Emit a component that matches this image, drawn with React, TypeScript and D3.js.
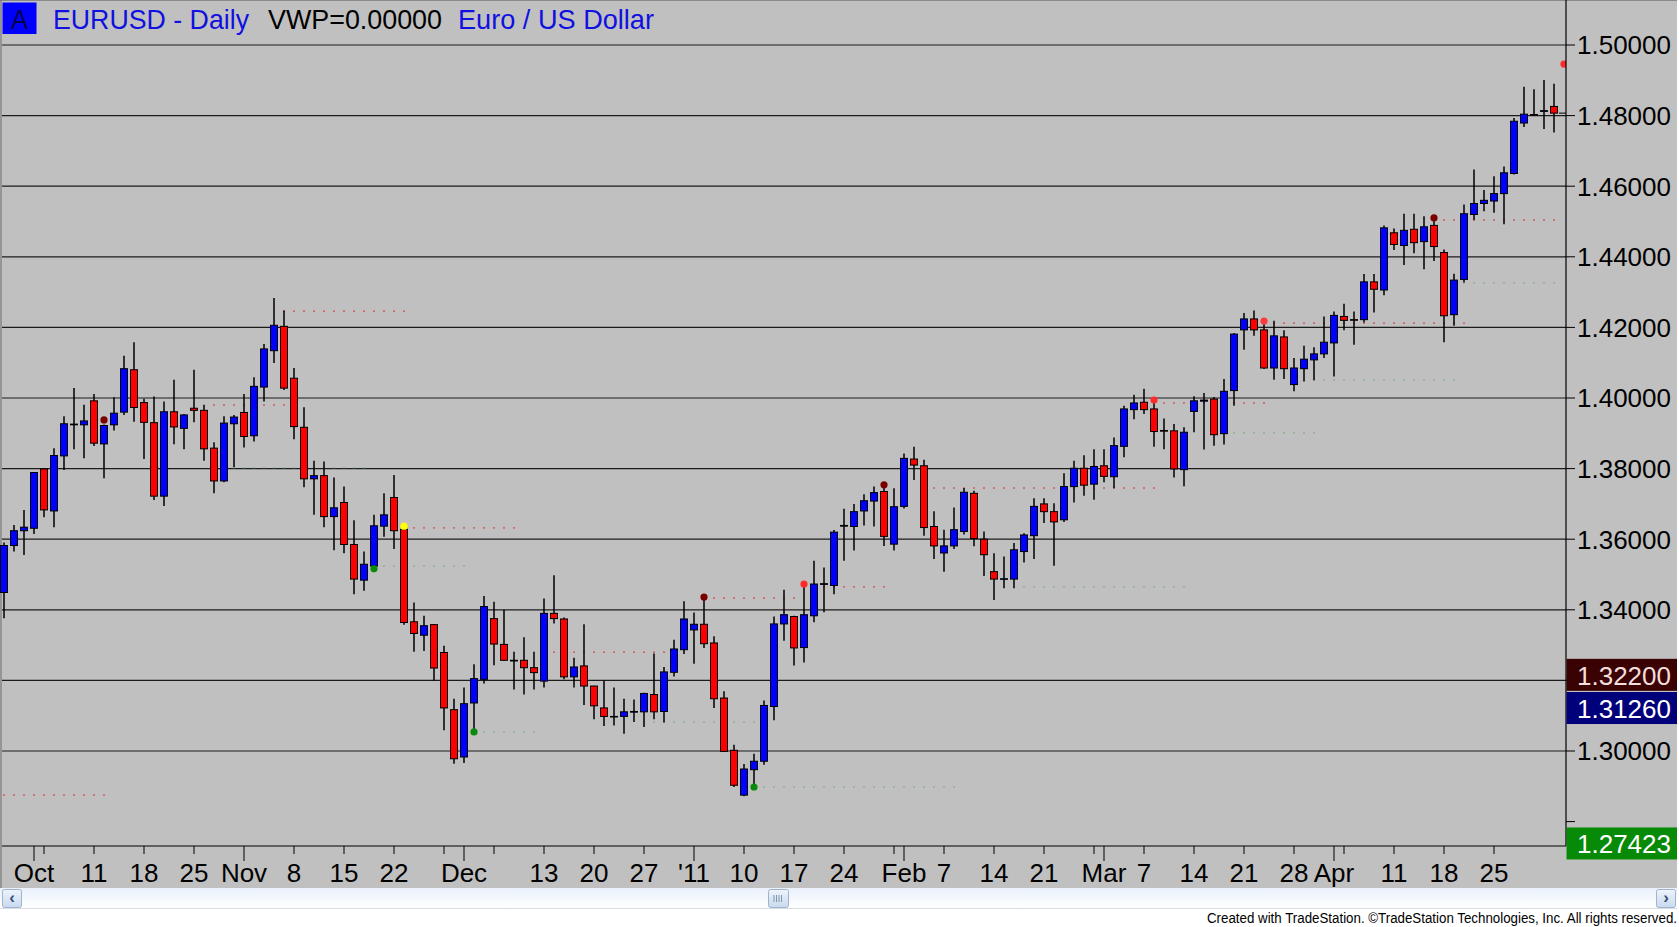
import { useEffect, useRef } from "react";
import * as d3 from "d3";

// daily EURUSD bars, Sep 28 2010 .. May 3 2011 (weekdays)
const opens = [
  1.3449, 1.3582, 1.3624, 1.3631, 1.3799, 1.368, 1.3836, 1.3924, 1.3924, 1.3992,
  1.387, 1.3924, 1.396, 1.408, 1.3987, 1.393, 1.3722, 1.3961, 1.3914, 1.3971,
  1.3965, 1.3858, 1.3765, 1.3927, 1.3959, 1.3893, 1.4031, 1.4134, 1.4203, 1.4056,
  1.3917, 1.3771, 1.378, 1.3664, 1.3704, 1.3585, 1.3484, 1.3524, 1.3637, 1.3718,
  1.3628, 1.3366, 1.3328, 1.3358, 1.3279, 1.3117, 1.2983, 1.3136, 1.3203, 1.3375,
  1.3302, 1.3257, 1.3257, 1.3236, 1.3198, 1.339, 1.3374, 1.321, 1.3241, 1.3184,
  1.3122, 1.3098, 1.3098, 1.311, 1.3111, 1.316, 1.3112, 1.3223, 1.3287, 1.3343,
  1.3359, 1.3306, 1.315, 1.3002, 1.2875, 1.2947, 1.2971, 1.3126, 1.336, 1.3381,
  1.3293, 1.3383, 1.3472, 1.3469, 1.3637, 1.3636, 1.368, 1.3708, 1.3735, 1.3586,
  1.3693, 1.3827, 1.3808, 1.3636, 1.3561, 1.3581, 1.3622, 1.373, 1.36, 1.3508,
  1.3487, 1.3487, 1.3565, 1.361, 1.37, 1.3678, 1.3655, 1.3749, 1.3801, 1.3756,
  1.3808, 1.3777, 1.3863, 1.3967, 1.3988, 1.3969, 1.3908, 1.3907, 1.3797, 1.3962,
  1.3991, 1.3997, 1.3899, 1.4021, 1.4193, 1.4224, 1.4193, 1.4085, 1.4173, 1.4038,
  1.4083, 1.4108, 1.4125, 1.4156, 1.4231, 1.4222, 1.4222, 1.4329, 1.4306, 1.4468,
  1.4432, 1.4478, 1.4443, 1.4489, 1.4412, 1.4236, 1.4336, 1.452, 1.4551, 1.4558,
  1.4579, 1.4636, 1.4779, 1.4803, 1.4812, 1.4826,
];
const highs = [
  1.3591, 1.364, 1.3683, 1.379, 1.38, 1.3858, 1.3948, 1.4028, 1.3981, 1.4011,
  1.3925, 1.4002, 1.412, 1.4158, 1.3998, 1.4004, 1.399, 1.4052, 1.3955, 1.408,
  1.3981, 1.3875, 1.3948, 1.3952, 1.4011, 1.4059, 1.4153, 1.4283, 1.4248, 1.4085,
  1.3974, 1.3822, 1.382, 1.3775, 1.3749, 1.3654, 1.3565, 1.3669, 1.373, 1.3782,
  1.3635, 1.3421, 1.3383, 1.336, 1.3298, 1.3148, 1.318, 1.3246, 1.3439, 1.3423,
  1.34, 1.3281, 1.3322, 1.3281, 1.3432, 1.3498, 1.3378, 1.3264, 1.3359, 1.3185,
  1.32, 1.318, 1.3148, 1.3146, 1.3165, 1.3276, 1.3238, 1.3315, 1.3424, 1.3392,
  1.3428, 1.3325, 1.3169, 1.3018, 1.2963, 1.2992, 1.3143, 1.3381, 1.3457, 1.3383,
  1.3466, 1.3539, 1.352, 1.3626, 1.3686, 1.37, 1.3727, 1.3749, 1.3749, 1.3744,
  1.3843, 1.3862, 1.3825, 1.3679, 1.3627, 1.369, 1.3745, 1.3737, 1.3622, 1.356,
  1.3551, 1.3589, 1.3617, 1.3716, 1.3716, 1.3702, 1.3787, 1.3822, 1.3838, 1.3855,
  1.3855, 1.3888, 1.3978, 1.4009, 1.4026, 1.3992, 1.3942, 1.3926, 1.3917, 1.4005,
  1.4014, 1.4003, 1.4054, 1.4184, 1.4241, 1.4248, 1.4212, 1.4219, 1.4192, 1.4113,
  1.4148, 1.4144, 1.4231, 1.4245, 1.4267, 1.4245, 1.4351, 1.4351, 1.4489, 1.448,
  1.4522, 1.4522, 1.4515, 1.4506, 1.4421, 1.4352, 1.4548, 1.4647, 1.4589, 1.4628,
  1.4656, 1.4793, 1.4882, 1.4875, 1.4901, 1.489,
];
const lows = [
  1.3376, 1.3565, 1.3555, 1.3615, 1.3662, 1.3634, 1.3796, 1.3855, 1.3829, 1.3864,
  1.3773, 1.3908, 1.3952, 1.3933, 1.3827, 1.3711, 1.3694, 1.3869, 1.3855, 1.3931,
  1.3822, 1.373, 1.3761, 1.3804, 1.386, 1.3877, 1.399, 1.4099, 1.4023, 1.3883,
  1.3747, 1.3669, 1.3634, 1.3569, 1.356, 1.3444, 1.3454, 1.3513, 1.3607, 1.3572,
  1.3358, 1.3281, 1.3283, 1.32, 1.3059, 1.2964, 1.2966, 1.3049, 1.3191, 1.3243,
  1.3255, 1.3174, 1.316, 1.3174, 1.318, 1.3361, 1.3203, 1.318, 1.313, 1.309,
  1.3071, 1.3072, 1.3049, 1.3082, 1.3068, 1.309, 1.3081, 1.3211, 1.3275, 1.3247,
  1.3292, 1.3122, 1.2997, 1.2898, 1.2872, 1.2902, 1.2961, 1.3087, 1.3312, 1.3242,
  1.3251, 1.3365, 1.3393, 1.3444, 1.3539, 1.3568, 1.3639, 1.3636, 1.3581, 1.3568,
  1.3687, 1.3768, 1.361, 1.3544, 1.3508, 1.3572, 1.3613, 1.358, 1.3496, 1.3428,
  1.3461, 1.3461, 1.3534, 1.3544, 1.3646, 1.3525, 1.3649, 1.3704, 1.3723, 1.3712,
  1.3761, 1.3744, 1.3832, 1.394, 1.3955, 1.3862, 1.3855, 1.3775, 1.375, 1.3903,
  1.3854, 1.3865, 1.3868, 1.3978, 1.4137, 1.4176, 1.4082, 1.4052, 1.4054, 1.4019,
  1.4047, 1.405, 1.4113, 1.4061, 1.4192, 1.4151, 1.4214, 1.4242, 1.4291, 1.4419,
  1.4377, 1.441, 1.4365, 1.4388, 1.4158, 1.4205, 1.4327, 1.4504, 1.4529, 1.4525,
  1.4492, 1.4633, 1.4768, 1.4799, 1.4762, 1.4752,
];
const closes = [
  1.3582, 1.3624, 1.3634, 1.3789, 1.3683, 1.3837, 1.3927, 1.3926, 1.3935, 1.3872,
  1.3922, 1.3957, 1.4083, 1.3973, 1.3931, 1.3722, 1.3961, 1.3918, 1.3952, 1.3965,
  1.3856, 1.3765, 1.3929, 1.3946, 1.3891, 1.4033, 1.4139, 1.4206, 1.4028, 1.3919,
  1.3771, 1.378, 1.3664, 1.3689, 1.3585, 1.3487, 1.3529, 1.3638, 1.3669, 1.3624,
  1.3364, 1.3333, 1.3355, 1.3235, 1.3122, 1.2978, 1.3134, 1.3205, 1.3409, 1.3303,
  1.3257, 1.3255, 1.3236, 1.3222, 1.339, 1.3375, 1.321, 1.3238, 1.3184, 1.3128,
  1.3098, 1.3097, 1.3111, 1.3112, 1.3163, 1.3111, 1.3224, 1.3289, 1.3374, 1.3359,
  1.3304, 1.3148, 1.2999, 1.2903, 1.2949, 1.2971, 1.3129, 1.336, 1.3386, 1.3292,
  1.3386, 1.3473, 1.3474, 1.362, 1.3639, 1.3678, 1.3709, 1.3732, 1.3608, 1.3692,
  1.3829, 1.381, 1.3633, 1.3581, 1.3581, 1.3627, 1.3733, 1.3602, 1.3556, 1.3487,
  1.3488, 1.357, 1.3612, 1.3693, 1.3678, 1.3649, 1.3749, 1.3801, 1.3753, 1.3806,
  1.3778, 1.3865, 1.3969, 1.3986, 1.3967, 1.3905, 1.3906, 1.3799, 1.3903, 1.3992,
  1.3994, 1.3896, 1.4019, 1.4181, 1.4224, 1.4193, 1.4085, 1.4176, 1.4083, 1.4085,
  1.411, 1.4125, 1.4158, 1.4234, 1.422, 1.4221, 1.4329, 1.4308, 1.4482, 1.4435,
  1.4475, 1.444, 1.4485, 1.4429, 1.4233, 1.4334, 1.4522, 1.4551, 1.456, 1.4579,
  1.4638, 1.4784, 1.4804, 1.4802, 1.4814, 1.4807,
];

// x-axis ticks: bar index, label, month start?
const tickBars = [3, 4, 9, 14, 19, 24, 29, 34, 39, 44, 46, 49, 54, 59, 64, 69, 74, 79, 84, 89, 90, 94, 99, 104, 109, 110, 114, 119, 124, 129, 133, 134, 139, 144, 149];
const tickLabels = ["Oct", "", "11", "18", "25", "Nov", "8", "15", "22", "", "Dec", "", "13", "20", "27", "'11", "10", "17", "24", "", "Feb", "7", "14", "21", "", "Mar", "7", "14", "21", "28", "Apr", "", "11", "18", "25"];
const monthTicks = [3, 24, 46, 69, 90, 110, 133];

const priceTicks = [1.28, 1.3, 1.32, 1.34, 1.36, 1.38, 1.4, 1.42, 1.44, 1.46, 1.48, 1.5];
const gridPrices = [1.3, 1.32, 1.34, 1.36, 1.38, 1.4, 1.42, 1.44, 1.46, 1.48, 1.5];

// pivot dots: bar, price, colour
const dotBars = [10, 37, 40, 47, 70, 75, 80, 88, 115, 126, 143, 156];
const dotPrices = [1.3938, 1.3516, 1.3637, 1.3054, 1.3436, 1.2898, 1.3473, 1.3754, 1.3994, 1.4218, 1.451, 1.4946];
const dotColors = ["#7a0000", "#0a8a0a", "#ffff00", "#0a8a0a", "#7a0000", "#0a8a0a", "#ff2a2a", "#7a0000", "#ff2a2a", "#ff3a3a", "#7a0000", "#ff2a2a"];

// dotted support/resistance levels
const levelPrices = [1.2875, 1.398, 1.4246, 1.3802, 1.3632, 1.3524, 1.3054, 1.328, 1.3082, 1.3433, 1.2898, 1.3465, 1.3745, 1.3465, 1.3986, 1.3901, 1.4212, 1.4051, 1.4504, 1.4326];
const levelFrom = [0, 21, 28, 21, 41, 37, 48, 55, 64, 71, 76, 81, 92, 102, 115, 122, 127, 131, 144, 145];
const levelTo = [10, 28, 40, 36, 51, 46, 53, 67, 75, 79, 95, 88, 115, 118, 126, 131, 146, 145, 155, 155];
const levelKinds = ["r", "r", "r", "g", "r", "g", "g", "r", "g", "r", "g", "r", "r", "g", "r", "g", "r", "g", "r", "g"];

// value boxes on the price scale
const boxValues = [1.322, 1.3126, 1.27423];
const boxFills = ["#3a0202", "#00007a", "#078a07"];
const boxText = ["#f2dede", "#ffffff", "#ffffff"];

const FONT = "'Liberation Sans', Arial, sans-serif";

export default function App() {
  const ref = useRef<SVGSVGElement | null>(null);

  useEffect(() => {
    if (!ref.current) return;
    const width = 1679;
    const height = 927;
    const plotRight = 1566;
    const plotBottom = 846;
    const panelRight = 1677;

    const svg = d3.select(ref.current);
    svg.selectAll("*").remove();
    svg.attr("width", width).attr("height", height);

    const x = d3.scaleLinear().domain([0, 155]).range([4, 1554]);
    const y = d3.scaleLinear().domain([1.28, 1.5]).range([821.6, 45]);

    svg.append("rect").attr("width", width).attr("height", height).attr("fill", "#ffffff");
    svg.append("rect").attr("width", panelRight).attr("height", 888).attr("fill", "#c0c0c0");
    svg.append("line").attr("x1", 0).attr("x2", panelRight).attr("y1", 0.5).attr("y2", 0.5).attr("stroke", "#8a8a8a");
    svg.append("line").attr("x1", 1).attr("x2", 1).attr("y1", 0).attr("y2", 888).attr("stroke", "#6a6a6a");

    const defs = svg.append("defs");
    defs.append("clipPath").attr("id", "plotClip")
      .append("rect").attr("x", 0).attr("y", 0).attr("width", plotRight).attr("height", plotBottom);
    const grad = defs.append("linearGradient").attr("id", "scrollGrad").attr("x1", 0).attr("x2", 0).attr("y1", 0).attr("y2", 1);
    grad.append("stop").attr("offset", "0%").attr("stop-color", "#e9f1fb");
    grad.append("stop").attr("offset", "100%").attr("stop-color", "#ffffff");
    const btnGrad = defs.append("linearGradient").attr("id", "btnGrad").attr("x1", 0).attr("x2", 0).attr("y1", 0).attr("y2", 1);
    btnGrad.append("stop").attr("offset", "0%").attr("stop-color", "#eef4fb");
    btnGrad.append("stop").attr("offset", "100%").attr("stop-color", "#c9d9ee");

    // grid
    svg.append("g")
      .selectAll("line")
      .data(gridPrices)
      .join("line")
      .attr("x1", 2)
      .attr("x2", plotRight)
      .attr("y1", (d) => y(d))
      .attr("y2", (d) => y(d))
      .attr("stroke", "#1c1c1c")
      .attr("stroke-width", 1.2);

    const plot = svg.append("g").attr("clip-path", "url(#plotClip)");

    // dotted levels
    const levels = plot.append("g");
    levelPrices.forEach((p, k) => {
      const bars = d3.range(levelFrom[k], levelTo[k] + 1);
      levels.append("g")
        .selectAll("rect")
        .data(bars)
        .join("rect")
        .attr("x", (i) => x(i) - 1)
        .attr("y", y(p) - 0.75)
        .attr("width", 2)
        .attr("height", 1.5)
        .attr("fill", levelKinds[k] === "r" ? "#d84a4a" : "#6aa46a")
        .attr("opacity", levelKinds[k] === "r" ? 0.85 : 0.55);
    });

    const idx = d3.range(opens.length);

    plot.append("g")
      .selectAll("line")
      .data(idx)
      .join("line")
      .attr("x1", (i) => x(i))
      .attr("x2", (i) => x(i))
      .attr("y1", (i) => y(highs[i]))
      .attr("y2", (i) => y(lows[i]))
      .attr("stroke", "#000")
      .attr("stroke-width", 1.5);

    plot.append("g")
      .selectAll("rect")
      .data(idx)
      .join("rect")
      .attr("x", (i) => x(i) - 3.5)
      .attr("width", 7)
      .attr("y", (i) => y(Math.max(opens[i], closes[i])))
      .attr("height", (i) => Math.max(0.6, Math.abs(y(opens[i]) - y(closes[i]))))
      .attr("fill", (i) => (closes[i] >= opens[i] ? "#0000ff" : "#ff0000"))
      .attr("stroke", "#000")
      .attr("stroke-width", 1);

    plot.append("g")
      .selectAll("circle")
      .data(dotBars)
      .join("circle")
      .attr("cx", (b) => x(b))
      .attr("cy", (_, k) => y(dotPrices[k]))
      .attr("r", 3.6)
      .attr("fill", (_, k) => dotColors[k]);

    // last price dash
    plot.append("line")
      .attr("x1", x(155) + 5).attr("x2", plotRight)
      .attr("y1", y(closes[155])).attr("y2", y(closes[155]))
      .attr("stroke", "#000").attr("stroke-width", 1);

    // axes frame
    svg.append("line").attr("x1", plotRight).attr("x2", plotRight).attr("y1", 0).attr("y2", plotBottom).attr("stroke", "#000").attr("stroke-width", 1.2);
    svg.append("line").attr("x1", 2).attr("x2", plotRight).attr("y1", plotBottom).attr("y2", plotBottom).attr("stroke", "#000").attr("stroke-width", 1.2);

    // price scale
    const boxY = boxValues.map((v) => y(v) + 2);
    svg.append("g")
      .selectAll("line")
      .data(priceTicks)
      .join("line")
      .attr("x1", plotRight)
      .attr("x2", plotRight + 9)
      .attr("y1", (d) => y(d))
      .attr("y2", (d) => y(d))
      .attr("stroke", "#000");

    svg.append("g")
      .selectAll("text")
      .data(priceTicks.filter((d) => boxY.every((b) => Math.abs(b - y(d)) > 26)))
      .join("text")
      .attr("x", 1577)
      .attr("y", (d) => y(d))
      .attr("dy", "0.36em")
      .attr("font-family", FONT)
      .attr("font-size", 26)
      .attr("fill", "#000")
      .text((d) => d.toFixed(5));

    const boxes = svg.append("g");
    boxValues.forEach((v, k) => {
      boxes.append("rect")
        .attr("x", plotRight + 0.5)
        .attr("y", boxY[k] - 16.5)
        .attr("width", panelRight - plotRight - 0.5)
        .attr("height", 32)
        .attr("fill", boxFills[k]);
      boxes.append("text")
        .attr("x", 1577)
        .attr("y", boxY[k])
        .attr("dy", "0.36em")
        .attr("font-family", FONT)
        .attr("font-size", 26)
        .attr("fill", boxText[k])
        .text(v.toFixed(5));
    });

    // time scale
    svg.append("g")
      .selectAll("line")
      .data(tickBars)
      .join("line")
      .attr("x1", (b) => x(b))
      .attr("x2", (b) => x(b))
      .attr("y1", plotBottom)
      .attr("y2", (b) => (monthTicks.includes(b) ? plotBottom + 15 : plotBottom + 8))
      .attr("stroke", "#000");

    svg.append("g")
      .selectAll("text")
      .data(tickBars.filter((_, k) => tickLabels[k] !== ""))
      .join("text")
      .attr("x", (b) => x(b))
      .attr("y", 882)
      .attr("text-anchor", "middle")
      .attr("font-family", FONT)
      .attr("font-size", 26)
      .attr("fill", "#000")
      .text((b) => tickLabels[tickBars.indexOf(b)]);

    // header
    svg.append("rect").attr("x", 2.5).attr("y", 2.5).attr("width", 34).attr("height", 31.5).attr("fill", "#0000ff");
    svg.append("text").attr("x", 11).attr("y", 28.5).attr("font-family", FONT).attr("font-size", 28)
      .attr("textLength", 17).attr("lengthAdjust", "spacingAndGlyphs").attr("fill", "#00004a").text("A");
    const head = [
      { t: "EURUSD - Daily", x0: 53, w: 196, c: "#1010e0" },
      { t: "VWP=0.00000", x0: 268, w: 174, c: "#000" },
      { t: "Euro / US Dollar", x0: 458, w: 196, c: "#1010e0" },
    ];
    svg.append("g")
      .selectAll("text")
      .data(head)
      .join("text")
      .attr("x", (d) => d.x0)
      .attr("y", 28.5)
      .attr("font-family", FONT)
      .attr("font-size", 28)
      .attr("textLength", (d) => d.w)
      .attr("lengthAdjust", "spacingAndGlyphs")
      .attr("fill", (d) => d.c)
      .text((d) => d.t);

    // scroll bar
    svg.append("rect").attr("x", 0).attr("y", 888).attr("width", panelRight).attr("height", 20).attr("fill", "url(#scrollGrad)");
    svg.append("line").attr("x1", 0).attr("x2", panelRight).attr("y1", 908.5).attr("y2", 908.5).attr("stroke", "#d8dde4");
    const btns = [
      { x0: 2, glyph: "‹" },
      { x0: 1656, glyph: "›" },
    ];
    btns.forEach((b) => {
      svg.append("rect").attr("x", b.x0 + 0.5).attr("y", 889.5).attr("width", 19).attr("height", 18).attr("rx", 2)
        .attr("fill", "url(#btnGrad)").attr("stroke", "#9fb3cc");
      svg.append("text").attr("x", b.x0 + 10).attr("y", 903).attr("text-anchor", "middle")
        .attr("font-family", FONT).attr("font-size", 17).attr("font-weight", "bold").attr("fill", "#34507a").text(b.glyph);
    });
    svg.append("rect").attr("x", 768.5).attr("y", 889.5).attr("width", 20).attr("height", 18).attr("rx", 2)
      .attr("fill", "url(#btnGrad)").attr("stroke", "#9fb3cc");
    svg.append("g")
      .selectAll("line")
      .data([774, 776.5, 779, 781.5])
      .join("line")
      .attr("x1", (d) => d).attr("x2", (d) => d)
      .attr("y1", 895).attr("y2", 902)
      .attr("stroke", "#7f95b3");

    svg.append("text")
      .attr("x", panelRight)
      .attr("y", 923)
      .attr("text-anchor", "end")
      .attr("font-family", FONT)
      .attr("font-size", 14)
      .attr("textLength", 470)
      .attr("lengthAdjust", "spacingAndGlyphs")
      .attr("fill", "#000")
      .text("Created with TradeStation. ©TradeStation Technologies, Inc. All rights reserved.");
  }, []);

  return (
    <svg
      ref={ref}
      role="img"
      aria-label="EURUSD daily candlestick chart"
      style={{ position: "fixed", top: 0, left: 0, display: "block" }}
    />
  );
}
